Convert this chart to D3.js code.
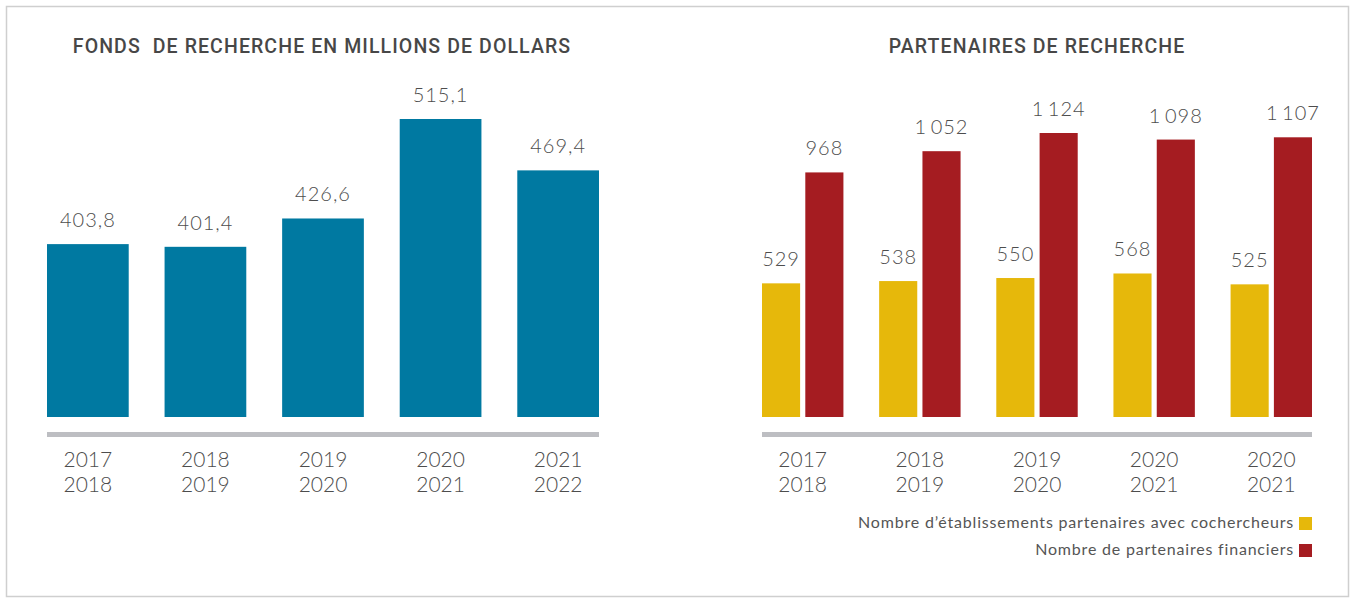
<!DOCTYPE html>
<html>
<head>
<meta charset="utf-8">
<script src="https://cdn.jsdelivr.net/npm/d3@7"></script>
<style>
	body { margin: 0; background: #fff; }
	svg text { font-family: Lato, "Open Sans", sans-serif; fill: #4d4d4d; }
</style>
</head>
<body>
<div class="container"></div>
<script>

var fundYears = ["2017|2018", "2018|2019", "2019|2020", "2020|2021", "2021|2022"];
var fundValues = [403.8, 401.4, 426.6, 515.1, 469.4];

var partnerYears = ["2017|2018", "2018|2019", "2019|2020", "2020|2021", "2020|2021b"];
var cochercheurs = [529, 538, 550, 568, 525];
var financiers = [968, 1052, 1124, 1098, 1107];
var seriesNames = ["Nombre d\u2019établissements partenaires avec cochercheurs", "Nombre de partenaires financiers"];
var seriesColors = ["#e6b80b", "#a51c21"];

var W = 1354, H = 599;
var baseY = 417;

var svg = d3.select(".container")
			.append("svg")
			.attr("width", W)
			.attr("height", H);

svg.append("rect")
   .attr("x", 6.5).attr("y", 6.5)
   .attr("width", 1342).attr("height", 590)
   .style("fill", "none")
   .style("stroke", "#cfcfcf")
   .style("stroke-width", "1.5px");

function title(text, x) {
	svg.append("text")
	   .attr("x", x).attr("y", 53)
	   .attr("text-anchor", "middle")
	   .style("font-family", "Roboto, sans-serif")
	   .style("font-weight", "500")
	   .style("font-size", "19.5px")
	   .style("letter-spacing", "1.1px")
	   .style("white-space", "pre")
	   .style("fill", "#474747")
	   .text(text);
}

function yearLabels(x, cats) {
	cats.forEach(function (c) {
		var parts = c.replace("b", "").split("|");
		var t = svg.append("text")
				   .attr("text-anchor", "middle")
				   .style("font-size", "21px")
				   .style("font-weight", "300");
		t.append("tspan").attr("x", x(c) + x.bandwidth() / 2).attr("y", 467).text(parts[0]);
		t.append("tspan").attr("x", x(c) + x.bandwidth() / 2).attr("y", 492).text(parts[1]);
	});
}

function axisLine(x0, x1) {
	svg.append("rect")
	   .attr("x", x0).attr("y", 432)
	   .attr("width", x1 - x0).attr("height", 5)
	   .style("fill", "#bdbec2");
}

// left chart
title("FONDS  DE RECHERCHE EN MILLIONS DE DOLLARS", 322);

var x1 = d3.scaleBand().domain(fundYears).range([47, 599]).paddingInner(0.305).paddingOuter(0);
var y1 = d3.scaleLinear().domain([250, 515.1]).range([baseY, 119]);

svg.selectAll(".fund")
   .data(fundValues)
   .enter().append("rect")
   .attr("x", function (d, i) { return x1(fundYears[i]); })
   .attr("y", function (d) { return y1(d); })
   .attr("width", x1.bandwidth())
   .attr("height", function (d) { return baseY - y1(d); })
   .style("fill", "#0079a1");

svg.selectAll(".fundLab")
   .data(fundValues)
   .enter().append("text")
   .attr("x", function (d, i) { return x1(fundYears[i]) + x1.bandwidth() / 2; })
   .attr("y", function (d) { return y1(d) - 17; })
   .attr("text-anchor", "middle")
   .style("font-size", "20px")
   .style("font-weight", "300")
   .style("letter-spacing", "1px")
   .text(function (d) { return d.toFixed(1).replace(".", ","); });

axisLine(47, 599);
yearLabels(x1, fundYears);

// right chart
title("PARTENAIRES DE RECHERCHE", 1037);

var x2 = d3.scaleBand().domain(partnerYears).range([762, 1312]).paddingInner(0.305).paddingOuter(0);
var xs = d3.scaleBand().domain([0, 1]).range([0, x2.bandwidth()]).paddingInner(0.12);
var y2 = d3.scaleLinear().domain([0, 1124]).range([baseY, 133]);

var fmt = function (d) { return d >= 1000 ? Math.floor(d / 1000) + "\u2009" + String(d % 1000).padStart(3, "0") : String(d); };

[cochercheurs, financiers].forEach(function (vals, s) {
	svg.selectAll(".bar" + s)
	   .data(vals)
	   .enter().append("rect")
	   .attr("x", function (d, i) { return x2(partnerYears[i]) + xs(s); })
	   .attr("y", function (d) { return y2(d); })
	   .attr("width", xs.bandwidth())
	   .attr("height", function (d) { return baseY - y2(d); })
	   .style("fill", seriesColors[s]);

	svg.selectAll(".lab" + s)
	   .data(vals)
	   .enter().append("text")
	   .attr("x", function (d, i) { return x2(partnerYears[i]) + xs(s) + xs.bandwidth() / 2; })
	   .attr("y", function (d) { return y2(d) - 17; })
	   .attr("text-anchor", "middle")
	   .style("font-size", "20px")
	   .style("font-weight", "300")
	   .style("letter-spacing", "1px")
	   .text(fmt);
});

axisLine(762, 1312);
yearLabels(x2, partnerYears);

// legend
seriesNames.forEach(function (name, i) {
	var ly = 517 + i * 27;
	svg.append("rect")
	   .attr("x", 1299).attr("y", ly)
	   .attr("width", 13).attr("height", 13)
	   .style("fill", seriesColors[i]);
	svg.append("text")
	   .attr("x", 1294).attr("y", ly + 11)
	   .attr("text-anchor", "end")
	   .style("font-size", "16px")
	   .style("font-weight", "400")
	   .style("letter-spacing", "0.8px")
	   .style("fill", "#555")
	   .text(name);
});

</script>
</body>
</html>
